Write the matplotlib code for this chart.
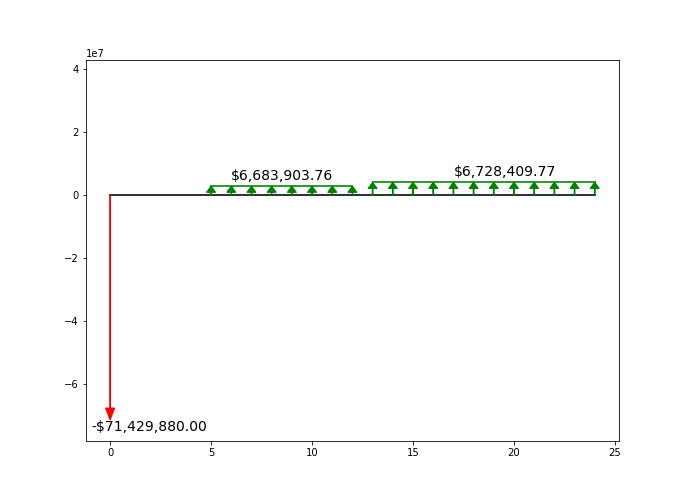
import numpy as np
import matplotlib
matplotlib.use("Agg")
import matplotlib.pyplot as plt

# cash flow data
initial_year = 0
initial_flow = -71429880.00
group1_years = list(range(5, 13))
group1_flow = 2.86e6
group2_years = list(range(13, 25))
group2_flow = 4.1e6
group_labels = ["$6,683,903.76", "$6,728,409.77"]
initial_label = "-$71,429,880.00"

fig = plt.figure(figsize=(687 / 72, 504 / 72), dpi=72)
ax = fig.add_subplot(111)
fig.subplots_adjust(left=0.125, right=0.901, top=0.881, bottom=0.125)

# time axis
ax.plot([initial_year, group2_years[-1]], [0, 0], color="#333333", lw=2, zorder=1)

# initial outflow
ax.arrow(initial_year, 0, 0, initial_flow, color="red", width=0.04,
         head_width=0.45, head_length=3.8e6, length_includes_head=True, zorder=3)
ax.text(-0.95, -7.49e7, initial_label, fontsize=14, ha="left", va="baseline")

# annuity groups
for years, flow, label, lx in [(group1_years, group1_flow, group_labels[0], 6),
                               (group2_years, group2_flow, group_labels[1], 17)]:
    for yr in years:
        ax.arrow(yr, 0, 0, flow, color="green", width=0.04,
                 head_width=0.45, head_length=2.0e6, length_includes_head=True, zorder=3)
    ax.plot([years[0], years[-1]], [flow, flow], color="green", alpha=0.8, lw=2, zorder=2)
    ax.text(lx, flow + 1.9e6, label, fontsize=14, ha="left", va="baseline")

ax.set_xlim(-1.2, 25.2)
ax.set_ylim(-7.81e7, 4.29e7)

fig.savefig("out.png", dpi=72)
